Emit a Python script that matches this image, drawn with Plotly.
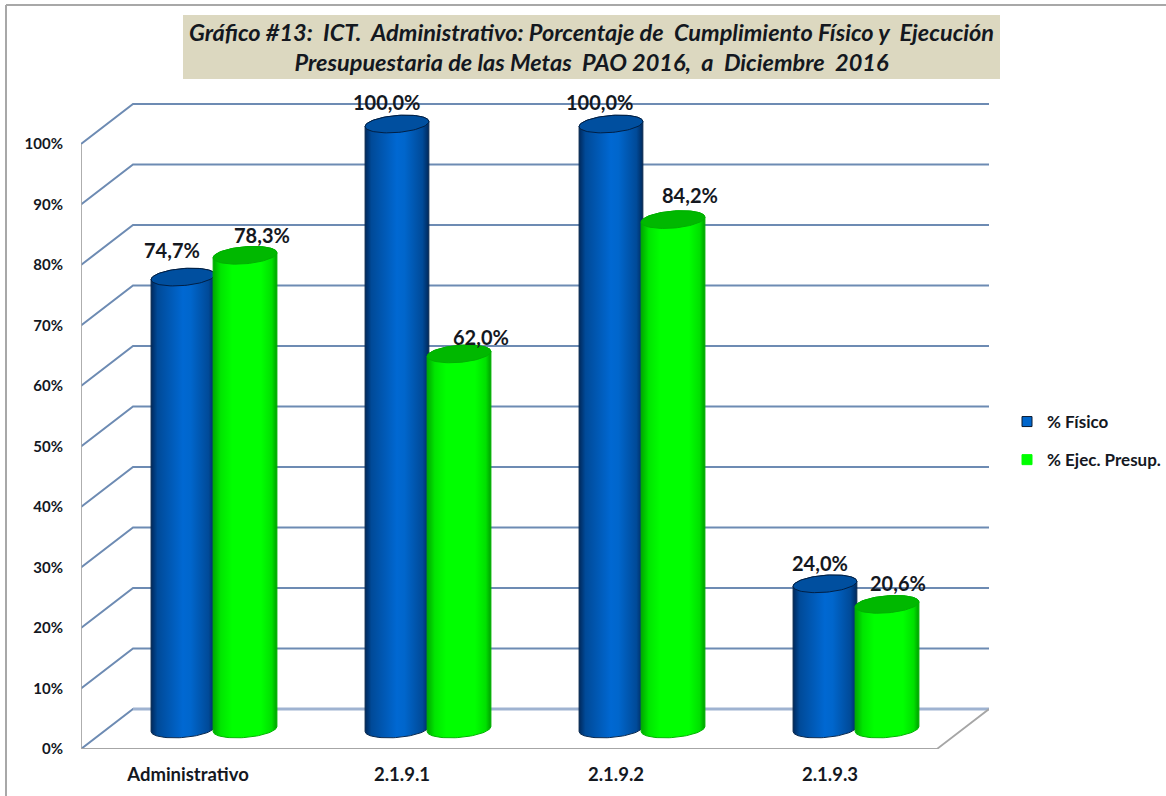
import numpy as np
import plotly.graph_objects as go

categories = ["Administrativo", "2.1.9.1", "2.1.9.2", "2.1.9.3"]
fisico = [74.7, 100.0, 100.0, 24.0]
presup = [78.3, 62.0, 84.2, 20.6]
fisico_labels = ["74,7%", "100,0%", "100,0%", "24,0%"]
presup_labels = ["78,3%", "62,0%", "84,2%", "20,6%"]
y_ticks = [0, 10, 20, 30, 40, 50, 60, 70, 80, 90, 100]
y_tick_labels = ["0%", "10%", "20%", "30%", "40%", "50%", "60%", "70%", "80%", "90%", "100%"]
name_fisico = "% Físico"
name_presup = "% Ejec. Presup."
title_lines = [
    "Gráfico #13:\u00a0 ICT.\u00a0 Administrativo: Porcentaje de\u00a0 Cumplimiento Físico y\u00a0 Ejecución",
    "Presupuestaria de las Metas\u00a0 PAO 2016,\u00a0 a\u00a0 Diciembre\u00a0 2016",
]

# page geometry (pixels)
W, H = 1166, 796
L, R, T, B = 81, 989, 100, 749
PX_Y = 6.05            # px per percent
PX_X = 214.0           # px per category
DX = 52 / PX_X         # wall depth in x units
DY = 40 / PX_Y         # wall depth in y units
CYL_W = 0.298
CYL_OFF = 0.145
ELL_B = 8.5 / PX_Y
ELL_T = 2.5 / PX_Y
FONT = "Lato"
INK = "#14181f"
GRID = "#6d8bb3"
WALL = "#a6a6a6"

# label nudges (px), as hand-placed in the original
fis_shift = [(-11, 27), (-10, 22), (-11, 22), (-5, 21)]
pre_shift = [(17, 20), (22, 17), (17, 25), (11, 21)]

xmin, xmax = -0.5, -0.5 + (R - L) / PX_X
ymin, ymax = 0, (B - T) / PX_Y
fx0, fx1 = -0.5, 3.5

fig = go.Figure()


def seg(xs, ys, color, width):
    fig.add_trace(go.Scatter(x=xs, y=ys, mode="lines", showlegend=False, hoverinfo="skip",
                             line=dict(color=color, width=width), cliponaxis=False))


# back wall and left wall gridlines
gx, gy = [], []
for v in y_ticks:
    gx += [fx0, fx0 + DX, fx1 + DX, None]
    gy += [v, v + DY, v + DY, None]
seg(gx, gy, GRID, 2)
# softer floor/back line
seg([fx0 + DX, fx1 + DX], [DY, DY], "#9fb3d1", 3)
# gray front edges of the box
seg([fx0, fx0, fx1, fx1 + DX], [y_ticks[-1], 0, 0, DY], WALL, 1.8)


def cylinder(xc, v, colors, line_col, top_col, top_line):
    c = DY / 2
    a = CYL_W / 2
    t = np.linspace(0, np.pi, 40)
    # front arc from left to right at bottom; back arc from right to left at top
    bx = xc - a * np.cos(t)
    by = c - ELL_T * np.cos(t) - ELL_B * np.sin(t)
    tx = xc + a * np.cos(t)
    ty = c + v + ELL_T * np.cos(t) + ELL_B * np.sin(t)
    fig.add_trace(go.Scatter(
        x=np.r_[bx, tx, bx[0]], y=np.r_[by, ty, by[0]], mode="lines", fill="toself",
        fillgradient=dict(type="horizontal", colorscale=colors),
        line=dict(color=line_col, width=1), showlegend=False, hoverinfo="skip"))
    u = np.linspace(0, 2 * np.pi, 80)
    fig.add_trace(go.Scatter(
        x=xc + a * np.cos(u),
        y=c + v + ELL_T * np.cos(u) + ELL_B * np.sin(u),
        mode="lines", fill="toself", fillcolor=top_col,
        line=dict(color=top_line, width=1), showlegend=False, hoverinfo="skip"))


BLUE = [[0, "#00295c"], [0.1, "#004a98"], [0.5, "#0068d2"], [0.62, "#0066cc"], [0.9, "#004a98"], [1, "#00295c"]]
GREEN = [[0, "#00a800"], [0.12, "#00e600"], [0.3, "#00ff00"], [0.75, "#00ff00"], [0.92, "#00e000"], [1, "#00a000"]]

for i in range(len(categories)):
    xc = i + DX / 2
    cylinder(xc - CYL_OFF, fisico[i], BLUE, "#0a2a50", "#004f9f", "#001f44")
    cylinder(xc + CYL_OFF, presup[i], GREEN, "#00b400", "#00b800", "#00b000")

# legend entries
fig.add_trace(go.Scatter(x=[None], y=[None], mode="markers", name=name_fisico, legendgroup="a",
                         marker=dict(symbol="square", size=10, color="#0066cc", line=dict(color="#0a1a30", width=1))))
fig.add_trace(go.Scatter(x=[None], y=[None], mode="markers", name=name_presup, legendgroup="b",
                         marker=dict(symbol="square", size=10, color="#00ff00", line=dict(color="#00ff00", width=1))))

annotations = []
for i in range(len(categories)):
    xc = i + DX / 2
    for off, vals, labs, sh in ((-CYL_OFF, fisico, fisico_labels, fis_shift),
                                (CYL_OFF, presup, presup_labels, pre_shift)):
        annotations.append(dict(
            x=xc + off, y=vals[i] + DY / 2, text=labs[i], showarrow=False,
            xanchor="center", yanchor="middle", xshift=sh[i][0], yshift=sh[i][1],
            font=dict(family=FONT, size=20, color=INK, weight="bold")))


def px(xp):
    return (xp - L) / (R - L)


def py(yp):
    return (B - yp) / (B - T)


annotations.append(dict(
    xref="paper", yref="paper", x=px(183), y=py(15), xanchor="left", yanchor="top",
    width=817, height=64, align="center", valign="middle",
    text="<br>".join(f"<b><i>{s}</i></b>" for s in title_lines), showarrow=False,
    bgcolor="#dcd8c0", borderpad=0, borderwidth=0,
    font=dict(family=FONT, size=23.5, color=INK)))

shapes = [
    dict(type="line", xref="paper", yref="paper", x0=px(6), x1=px(6), y0=py(5), y1=py(H),
         line=dict(color="#a8a8a8", width=2), layer="below"),
    dict(type="line", xref="paper", yref="paper", x0=px(6), x1=px(W), y0=py(5), y1=py(5),
         line=dict(color="#a8a8a8", width=2), layer="below"),
]

fig.update_layout(
    width=W, height=H, autosize=False,
    margin=dict(l=L, r=W - R, t=T, b=H - B, pad=0, autoexpand=False),
    paper_bgcolor="white", plot_bgcolor="rgba(0,0,0,0)",
    annotations=annotations, shapes=shapes, hovermode=False,
    legend=dict(xref="paper", yref="paper", x=px(1166), y=py(404), xanchor="right", yanchor="top",
                bgcolor="rgba(0,0,0,0)", font=dict(family=FONT, size=17, color=INK, weight="bold"),
                tracegroupgap=13, itemwidth=30),
    xaxis=dict(range=[xmin, xmax], tickvals=list(range(len(categories))), ticktext=categories,
               showgrid=False, zeroline=False, showline=False, ticks="", ticklabelstandoff=12,
               tickfont=dict(family=FONT, size=18.5, color=INK, weight="bold")),
    yaxis=dict(range=[ymin, ymax], tickvals=y_ticks, ticktext=y_tick_labels,
               showgrid=False, zeroline=False, showline=False, ticks="", ticklabelstandoff=17,
               tickfont=dict(family=FONT, size=15, color=INK, weight="bold")),
)

fig.write_html("out.html", config={"displayModeBar": False},
               post_script="document.body.style.margin='0';")
